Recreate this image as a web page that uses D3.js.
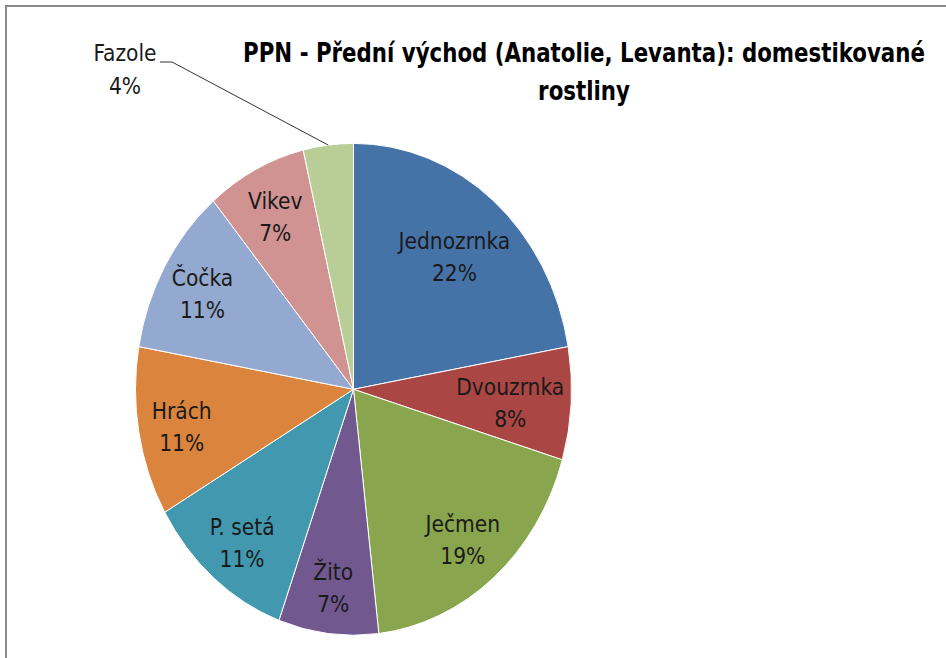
<!DOCTYPE html>
<html><head><meta charset="utf-8">
<script src="https://cdn.jsdelivr.net/npm/d3@7/dist/d3.min.js"></script>
<style>
html,body{margin:0;padding:0;background:#fff;}
svg{display:block;}
text{font-family:"DejaVu Sans Condensed","Liberation Sans Narrow","DejaVu Sans",sans-serif;font-stretch:condensed;}
</style></head>
<body>
<svg id="chart" width="946" height="658"></svg>
<script>
// ---- data ----
const categories = ["Jednozrnka","Dvouzrnka","Ječmen","Žito","P. setá","Hrách","Čočka","Vikev","Fazole"];
const counts = [6, 2, 5, 2, 3, 3, 3, 2, 1];
const percentLabels = ["22%","8%","19%","7%","11%","11%","11%","7%","4%"];
const colors = ["#4572A7","#AA4643","#89A54E","#71588F","#4198AF","#DB843D","#93A9CF","#D19392","#B9CD96"];
const titleLines = ["PPN - Přední východ (Anatolie, Levanta): domestikované","rostliny"];

// ---- layout ----
const W = 946, H = 658;
const cx = 353.5, cy = 389.3, R = 218, K = 1.128; // vertical stretch of the pie
const svg = d3.select("#chart");
svg.append("rect").attr("x",0).attr("y",0).attr("width",W).attr("height",H).attr("fill","#fff");
svg.append("rect").attr("x",6).attr("y",6).attr("width",1200).attr("height",1200)
  .attr("fill","none").attr("stroke","#8a8a8a").attr("stroke-width",2);

// title (condensed horizontally to the reference width)
const TW = 682, TFS = 27;
const t0 = svg.append("text").attr("text-anchor","middle")
  .attr("font-size",TFS).attr("font-weight","bold").attr("fill","#000").text(titleLines[0]);
const sx = Math.min(1, TW / t0.node().getComputedTextLength());
t0.attr("transform",`translate(584,62) scale(${sx},1)`);
svg.append("text").attr("text-anchor","middle").attr("transform",`translate(584,100) scale(${sx},1)`)
  .attr("font-size",TFS).attr("font-weight","bold").attr("fill","#000").text(titleLines[1]);

const data = categories.map((c,i)=>({name:c, value:counts[i], pct:percentLabels[i], color:colors[i]}));
const pie = d3.pie().sort(null).value(d=>d.value).startAngle(0).endAngle(2*Math.PI);
const arcs = pie(data);
const arc = d3.arc().innerRadius(0).outerRadius(R);

const g = svg.append("g").attr("transform",`translate(${cx},${cy}) scale(1,${K})`);
g.selectAll("path").data(arcs).enter().append("path")
  .attr("d",arc).attr("fill",d=>d.data.color)
  .attr("stroke","#fff").attr("stroke-width",1).attr("vector-effect","non-scaling-stroke");

// ---- labels: on the bisector, pulled inward until the text box fits in the pie ----
const FS = 22.5, LS = 32, CAP = 17;
const labelG = svg.append("g");
function toImg(angle, rad){ return [cx + Math.sin(angle)*rad, cy - Math.cos(angle)*rad*K]; }
function insidePie(px, py, pad){
  const dx = px - cx, dy = (py - cy)/K;
  return Math.sqrt(dx*dx+dy*dy) <= R - pad;
}
arcs.forEach((a,i)=>{
  if (a.data.name === "Fazole") return;
  const t1 = labelG.append("text").attr("text-anchor","middle").attr("font-size",FS).attr("fill","#1a1a1a").text(a.data.name);
  const t2 = labelG.append("text").attr("text-anchor","middle").attr("font-size",FS).attr("fill","#1a1a1a").text(a.data.pct);
  const w = Math.max(t1.node().getComputedTextLength(), t2.node().getComputedTextLength());
  const h = LS + CAP + 6;
  const mid = (a.startAngle + a.endAngle)/2;
  let best = toImg(mid, 0.5*R);
  for (let rf = 0.80; rf >= 0.4; rf -= 0.005){
    const [px, py] = toImg(mid, rf*R);
    const corners = [[px-w/2,py-h/2],[px+w/2,py-h/2],[px-w/2,py+h/2],[px+w/2,py+h/2]];
    if (corners.every(c=>insidePie(c[0],c[1],4))){ best=[px,py]; break; }
  }
  const top = best[1] - (LS+CAP)/2 + 3;
  t1.attr("x",best[0]).attr("y",top + CAP);
  t2.attr("x",best[0]).attr("y",top + CAP + LS);
});

// outside label for the small slice, with leader line
const fz = arcs[arcs.length-1];
const fzMid = (fz.startAngle + fz.endAngle)/2;
const edge = toImg(fzMid, R);
const elbow = [172, 62];
svg.append("polyline")
  .attr("points", [[160,62], elbow, edge].map(p=>p.join(",")).join(" "))
  .attr("fill","none").attr("stroke","#333").attr("stroke-width",1);
svg.append("text").attr("x",125).attr("y",61).attr("text-anchor","middle").attr("font-size",FS).attr("fill","#1a1a1a").text(fz.data.name);
svg.append("text").attr("x",125).attr("y",94).attr("text-anchor","middle").attr("font-size",FS).attr("fill","#1a1a1a").text(fz.data.pct);
</script>
</body></html>
